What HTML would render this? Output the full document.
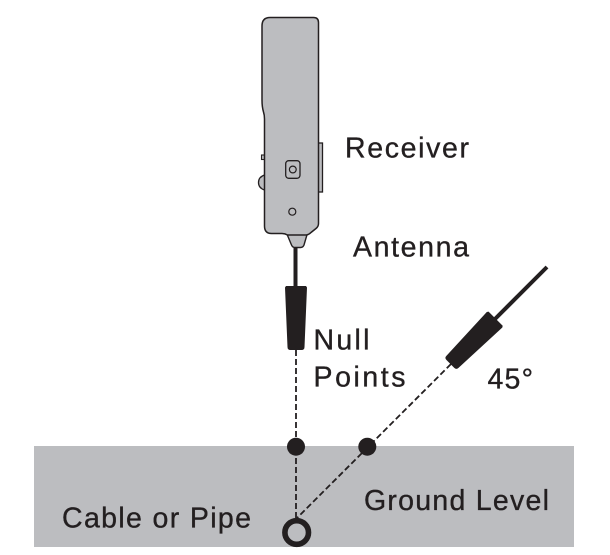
<!DOCTYPE html>
<html>
<head>
<meta charset="utf-8">
<style>
  html, body { margin: 0; padding: 0; background: #ffffff; }
  body { width: 610px; height: 555px; overflow: hidden; }
  svg { display: block; }
  text { font-family: "Liberation Sans", Arial, sans-serif; font-size: 28.5px; fill: #231f20; stroke: #231f20; stroke-width: 0.35px; }
</style>
</head>
<body>
<svg width="610" height="555" viewBox="0 0 610 555" xmlns="http://www.w3.org/2000/svg">
  <!-- Ground -->
  <rect x="34" y="446" width="540" height="101" fill="#bcbdc0"/>

  <!-- Receiver: right side button -->
  <rect x="317.5" y="143" width="5" height="49" fill="#bcbdc0" stroke="#231f20" stroke-width="1.3"/>
  <!-- left small button -->
  <rect x="261.5" y="155" width="3.5" height="4.5" fill="#bcbdc0" stroke="#231f20" stroke-width="1.1"/>
  <!-- left bump -->
  <path d="M 264.5,175 Q 258.5,177 258.5,182.5 Q 258.5,188 264.5,190" fill="#bcbdc0" stroke="#231f20" stroke-width="1.3"/>

  <!-- neck -->
  <path d="M 286.5,233 L 291.5,245 Q 292.5,247.5 295,247.5 L 300.5,247.5 Q 303,247.5 304,245 L 307.5,233 Z" fill="#bcbdc0" stroke="#231f20" stroke-width="1.4"/>

  <!-- body -->
  <path d="M 270,17.5 L 313.5,17.5 Q 318.5,17.5 318.5,22.5 L 318.5,223.5 Q 318.5,226.5 316,228.5 L 311,232.5 Q 309,234.5 306.5,235 L 287.5,235 Q 285,233.5 282,233.5 L 271.5,233.5 Q 264.5,233.5 264.5,226 L 264.5,119 Q 264.5,115 263.5,112 Q 262,107 262,100 L 262,26 Q 262,17.5 270,17.5 Z"
        fill="#bcbdc0" stroke="#231f20" stroke-width="1.5" stroke-linejoin="round"/>

  <!-- square button -->
  <rect x="285.7" y="160.7" width="14.3" height="17.6" rx="3" ry="3" fill="#bcbdc0" stroke="#231f20" stroke-width="1.3"/>
  <circle cx="292.8" cy="169.5" r="3.4" fill="none" stroke="#231f20" stroke-width="1.2"/>
  <!-- small circle -->
  <circle cx="292.3" cy="211.7" r="3.5" fill="none" stroke="#231f20" stroke-width="1.2"/>

  <!-- vertical antenna thin line -->
  <line x1="295.5" y1="247" x2="295.5" y2="288" stroke="#231f20" stroke-width="4"/>
  <!-- vertical antenna body -->
  <g transform="translate(296,318)">
    <path d="M -10,-32 L 10,-32 L 11,-30.5 L 8.5,29 Q 8.5,32 5.5,32 L -5.5,32 Q -8.5,32 -8.5,29 L -11,-30.5 Z" fill="#231f20"/>
  </g>

  <!-- angled antenna thin line -->
  <line x1="490" y1="324" x2="547" y2="267" stroke="#231f20" stroke-width="4"/>
  <!-- angled antenna body -->
  <g transform="translate(473,341.3) rotate(45)">
    <path d="M -10,-32 L 10,-32 L 11,-30.5 L 8.5,29 Q 8.5,32 5.5,32 L -5.5,32 Q -8.5,32 -8.5,29 L -11,-30.5 Z" fill="#231f20"/>
  </g>

  <!-- dashed lines -->
  <line x1="296" y1="350" x2="296" y2="520" stroke="#231f20" stroke-width="1.8" stroke-dasharray="6 3"/>
  <line x1="451" y1="364" x2="297" y2="518" stroke="#231f20" stroke-width="1.8" stroke-dasharray="6 3"/>

  <!-- null points -->
  <circle cx="296" cy="446.7" r="9" fill="#231f20"/>
  <circle cx="367.3" cy="446.7" r="9" fill="#231f20"/>

  <!-- pipe -->
  <circle cx="296.7" cy="532.5" r="11.8" fill="none" stroke="#231f20" stroke-width="5.6"/>

  <!-- labels -->
  <text x="345" y="157.3" textLength="124" lengthAdjust="spacing">Receiver</text>
  <text x="353" y="256.7" textLength="116" lengthAdjust="spacing">Antenna</text>
  <text x="313.5" y="349.3" textLength="56" lengthAdjust="spacing">Null</text>
  <text x="313.5" y="386.7" textLength="92" lengthAdjust="spacing">Points</text>
  <text x="487.5" y="388.3" textLength="45.5" lengthAdjust="spacing">45°</text>
  <text x="364" y="510" textLength="185" lengthAdjust="spacing">Ground Level</text>
  <text x="62" y="527.3" textLength="189" lengthAdjust="spacing">Cable or Pipe</text>
</svg>
</body>
</html>
